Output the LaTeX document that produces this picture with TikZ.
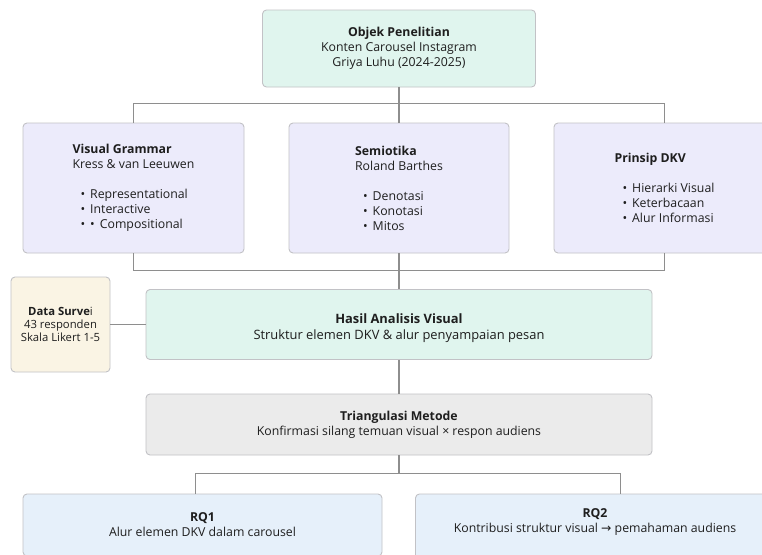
\documentclass[tikz,border=0pt]{standalone}
\usepackage{fontspec}
\setmainfont{Open Sans}
\newfontfamily\symfont{DejaVu Sans}
\definecolor{mint}{HTML}{E0F5EE}
\definecolor{lav}{HTML}{ECEBFB}
\definecolor{cream}{HTML}{FAF4E4}
\definecolor{greyf}{HTML}{EBEBEB}
\definecolor{bluef}{HTML}{E6F0FA}
\definecolor{boxline}{HTML}{C2C2C6}
\definecolor{connline}{HTML}{8E8E8E}
\definecolor{textc}{HTML}{1E1E1E}
\begin{document}
\begin{tikzpicture}[x=1pt,y=-1pt,
  box/.style={draw=boxline, line width=0.9pt, rounded corners=4pt, inner sep=0pt, text=textc},
  conn/.style={draw=connline, line width=1.1pt},
  txt/.style={font=\fontsize{12.3}{15}\selectfont},
  small/.style={font=\fontsize{11.3}{13.3}\selectfont},
  big/.style={font=\fontsize{12.9}{16}\selectfont},
  label text/.style={align=center, text=textc, inner sep=0pt}]
\useasboundingbox (0,0) rectangle (762,554);
\clip (0,0) rectangle (762,554);
\fill[white] (0,0) rectangle (762,554);

\node[box, fill=mint, minimum width=273pt, minimum height=77pt, align=center, txt] (obj) at (399,48.5)
  {\textbf{Objek Penelitian}\\Konten Carousel Instagram\\Griya Luhu (2024-2025)};

\node[box, fill=lav, minimum width=221pt, minimum height=130pt, align=left, txt] (vg) at (133.5,188)
  {\textbf{Visual Grammar}\\Kress \& van Leeuwen\\[15pt]\hspace*{8pt}•\hspace{5pt}Representational\\\hspace*{8pt}•\hspace{5pt}Interactive\\\hspace*{8pt}•\hspace{5pt}•\hspace{5pt}Compositional};

\node[box, fill=lav, minimum width=220pt, minimum height=130pt, align=left, txt] (sem) at (399,188)
  {\textbf{Semiotika}\\Roland Barthes\\[15pt]\hspace*{8pt}•\hspace{5pt}Denotasi\\\hspace*{8pt}•\hspace{5pt}Konotasi\\\hspace*{8pt}•\hspace{5pt}Mitos};

\node[box, fill=lav, minimum width=221pt, minimum height=130pt, align=left, txt] (pr) at (664.5,188)
  {\textbf{Prinsip DKV}\\[15pt]\hspace*{8pt}•\hspace{5pt}Hierarki Visual\\\hspace*{8pt}•\hspace{5pt}Keterbacaan\\\hspace*{8pt}•\hspace{5pt}Alur Informasi};

\node[box, fill=cream, minimum width=99pt, minimum height=95pt, align=center, small] (ds) at (60.5,324.5)
  {\textbf{Data Surve}i\\43 responden\\Skala Likert 1-5};

\node[box, fill=mint, minimum width=506pt, minimum height=70pt] (hasil) at (399,324.5) {};
\node[label text, big] (hasilt) at (399,328.5)
  {\textbf{Hasil Analisis Visual}\\Struktur elemen DKV \& alur penyampaian pesan};

\node[box, fill=greyf, minimum width=506pt, minimum height=61pt, align=center, txt] (tri) at (399,424.5)
  {\textbf{Triangulasi Metode}\\Konfirmasi silang temuan visual × respon audiens};

\node[box, fill=bluef, minimum width=359pt, minimum height=62pt, align=center, txt] (rq1) at (202.5,525)
  {\textbf{RQ1}\\Alur elemen DKV dalam carousel};

\node[box, fill=bluef, minimum width=359pt, minimum height=70pt] (rq2) at (595,529) {};
\node[label text, txt] (rq2t) at (595,522)
  {\textbf{RQ2}\\Kontribusi struktur visual {\symfont→} pemahaman audiens};

% connectors
\coordinate (j1) at (399,103.3);
\coordinate (j2) at (399,270.7);
\coordinate (j3) at (399,473.3);
\coordinate (r1) at (195.8,473.3);
\coordinate (r2) at (620.5,473.3);
\draw[conn] (obj.south) -- (sem.north);
\draw[conn] (vg.north) |- (j1) -| (pr.north);
\draw[conn] (vg.south) |- (j2) -| (pr.south);
\draw[conn] (sem.south) -- (hasil.north);
\draw[conn] (ds.east) -- (hasil.west);
\draw[conn] (hasil.south) -- (tri.north);
\draw[conn] (tri.south) -- (j3);
\draw[conn] (r1 |- rq1.north) |- (r2) -- (r2 |- rq2.north);
\end{tikzpicture}
\end{document}
